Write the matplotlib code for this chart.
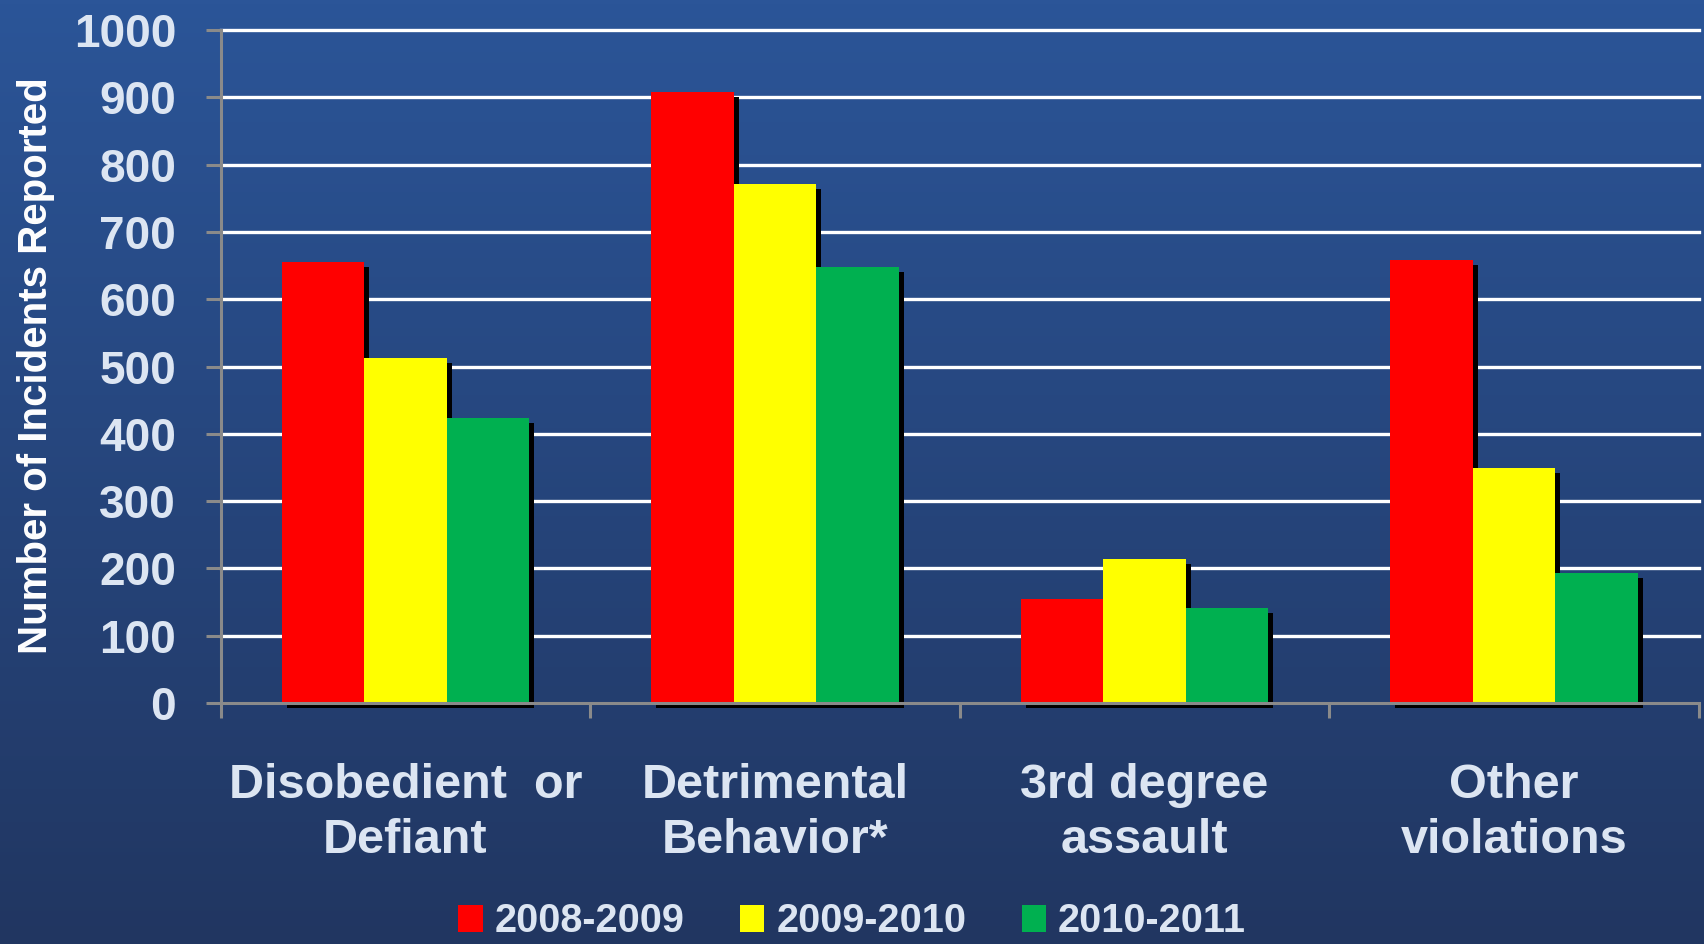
import numpy as np
import matplotlib
matplotlib.use("Agg")
import matplotlib.pyplot as plt
from matplotlib.transforms import ScaledTranslation
from matplotlib.patches import Patch

categories = ["Disobedient  or\nDefiant", "Detrimental\nBehavior*", "3rd degree\nassault", "Other\nviolations"]
series_names = ["2008-2009", "2009-2010", "2010-2011"]
vals_2008 = [655, 908, 155, 658]
vals_2009 = [512, 771, 214, 349]
vals_2010 = [423, 648, 141, 193]
colors = ["#FF0000", "#FFFF00", "#00B050"]
yticks = [0, 100, 200, 300, 400, 500, 600, 700, 800, 900, 1000]

FONT = ["Liberation Sans Narrow", "Liberation Sans", "DejaVu Sans"]
plt.rcParams["font.family"] = FONT
plt.rcParams["font.weight"] = "bold"
TXT = "#DCE5F2"
GRAY = "#8A8A8A"

fig = plt.figure(figsize=(17.04, 9.44), dpi=100)

# background gradient
bg = fig.add_axes([0, 0, 1, 1], zorder=-10)
top = np.array([43, 85, 152]) / 255.0
bot = np.array([33, 54, 97]) / 255.0
t = np.linspace(0, 1, 256)[:, None]
grad = (top[None, :] * (1 - t) + bot[None, :] * t)[:, None, :]
bg.imshow(grad, aspect="auto", extent=[0, 1, 0, 1], origin="upper")
bg.set_axis_off()

ax = fig.add_axes([0.1295, 0.2553, 0.8674, 0.7129])
ax.patch.set_alpha(0)

x = np.arange(len(categories))
w = 0.223
series = [vals_2008, vals_2009, vals_2010]
shadow_tr = ax.transData + ScaledTranslation(5 / 100, -5 / 100, fig.dpi_scale_trans)
for i, vals in enumerate(series):
    ax.bar(x + (i - 1) * w, vals, w, color="black", transform=shadow_tr,
           zorder=2, clip_on=False, linewidth=0)
for i, vals in enumerate(series):
    ax.bar(x + (i - 1) * w, vals, w, color=colors[i], zorder=3, linewidth=0,
           label=series_names[i])

ax.set_xlim(-0.5, len(categories) - 0.5)
ax.set_ylim(0, 1000)
ax.set_yticks(yticks)
ax.set_yticklabels([str(v) for v in yticks])
for yv in yticks[1:]:
    ax.axhline(yv, color="white", lw=2.4, zorder=1, clip_on=False)

for s in ["top", "right"]:
    ax.spines[s].set_visible(False)
for s in ["left", "bottom"]:
    ax.spines[s].set_color(GRAY)
    ax.spines[s].set_linewidth(2.2)
    ax.spines[s].set_zorder(4)

ax.tick_params(axis="y", length=11, width=2.2, color=GRAY, labelcolor=TXT,
               labelsize=33, pad=21)
ax.set_xticks(np.arange(len(categories) + 1) - 0.5)
ax.set_xticklabels([])
ax.tick_params(axis="x", which="major", length=11, width=2.2, color=GRAY)
ax.set_xticks(x, minor=True)
ax.set_xticklabels(categories, minor=True)
ax.tick_params(axis="x", which="minor", length=0, labelcolor=TXT,
               labelsize=35, pad=43)
for lab in ax.get_xticklabels(minor=True):
    lab.set_linespacing(1.3)

fig.text(0.021, 0.613, "Number of Incidents Reported", rotation=90,
         color="white", fontsize=29, ha="center", va="center")

handles = [Patch(facecolor=c, edgecolor="none") for c in colors]
fig.legend(handles, series_names, loc="center", bbox_to_anchor=(0.5, 0.024),
           ncol=3, frameon=False, fontsize=28.5, labelcolor=TXT,
           handlelength=0.62, handleheight=0.7, handletextpad=0.3,
           columnspacing=1.4, borderpad=0, borderaxespad=0)

fig.savefig("out.png", dpi=100)
